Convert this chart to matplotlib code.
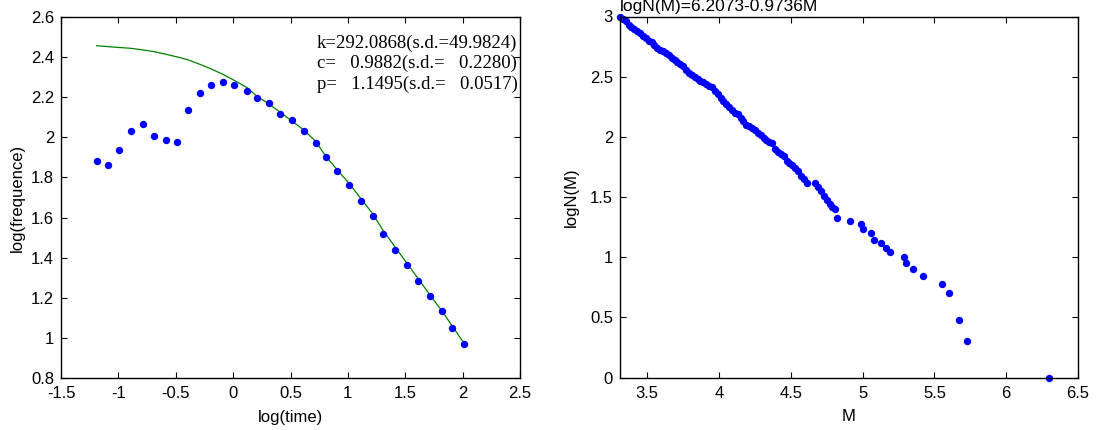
import matplotlib
matplotlib.use("Agg")
import matplotlib.pyplot as plt
from matplotlib.ticker import FuncFormatter, MultipleLocator

# ---------------- data: left panel (Omori fit) ----------------
log_time = [-1.189, -1.088, -0.992, -0.893, -0.788, -0.687, -0.585, -0.487,
            -0.391, -0.289, -0.191, -0.089, 0.010, 0.118, 0.207, 0.309,
            0.410, 0.515, 0.617, 0.719, 0.808, 0.907, 1.011, 1.113,
            1.215, 1.308, 1.409, 1.511, 1.613, 1.714, 1.819, 1.909, 2.010]
log_freq = [1.884, 1.864, 1.937, 2.033, 2.065, 2.007, 1.985, 1.975,
            2.138, 2.223, 2.259, 2.276, 2.259, 2.233, 2.196, 2.170,
            2.116, 2.085, 2.033, 1.970, 1.900, 1.832, 1.763, 1.684,
            1.610, 1.518, 1.440, 1.365, 1.285, 1.211, 1.133, 1.048, 0.968]
fit_freq = [2.457, 2.452, 2.448, 2.444, 2.436, 2.427, 2.414, 2.401,
            2.386, 2.364, 2.341, 2.314, 2.284, 2.249, 2.205, 2.168,
            2.125, 2.080, 2.036, 1.980, 1.905, 1.838, 1.770, 1.695,
            1.620, 1.535, 1.455, 1.375, 1.295, 1.215, 1.135, 1.060, 0.975]
fit_text = ["k=292.0868(s.d.=49.9824)",
            "c=   0.9882(s.d.=   0.2280)",
            "p=   1.1495(s.d.=   0.0517)"]

# ---------------- data: right panel (G-R relation) ----------------
mag = [3.31, 3.33, 3.35, 3.37, 3.39, 3.41, 3.43, 3.45, 3.47, 3.49,
       3.51, 3.53, 3.55, 3.57, 3.59, 3.61, 3.63, 3.65, 3.67, 3.69,
       3.71, 3.73, 3.75, 3.77, 3.79, 3.81, 3.83, 3.85, 3.87, 3.89,
       3.91, 3.93, 3.95, 3.97, 3.99, 4.01, 4.03, 4.05, 4.07, 4.09,
       4.11, 4.13, 4.15, 4.17, 4.19, 4.21, 4.23, 4.25, 4.27, 4.29,
       4.31, 4.33, 4.35, 4.37, 4.39, 4.41, 4.43, 4.45, 4.47, 4.49,
       4.51, 4.53, 4.55, 4.57, 4.59, 4.61,
       4.67, 4.69, 4.71, 4.73, 4.75, 4.77, 4.79, 4.81,
       4.82, 4.91, 4.99, 5.00, 5.06, 5.08, 5.13, 5.16, 5.19,
       5.29, 5.30, 5.35, 5.42, 5.55, 5.60, 5.67, 5.73, 6.30]
logN = [3.000, 2.982, 2.962, 2.930, 2.915, 2.897, 2.880, 2.862, 2.840, 2.820,
        2.800, 2.785, 2.760, 2.742, 2.725, 2.712, 2.693, 2.678, 2.655, 2.640,
        2.622, 2.605, 2.588, 2.556, 2.530, 2.516, 2.498, 2.482, 2.468, 2.455,
        2.440, 2.425, 2.410, 2.378, 2.355, 2.322, 2.295, 2.270, 2.250, 2.225,
        2.198, 2.186, 2.160, 2.128, 2.100, 2.088, 2.075, 2.054, 2.036, 2.015,
        1.990, 1.970, 1.956, 1.945, 1.900, 1.870, 1.855, 1.842, 1.800, 1.780,
        1.762, 1.740, 1.712, 1.678, 1.650, 1.620,
        1.613, 1.580, 1.550, 1.505, 1.475, 1.445, 1.415, 1.398,
        1.322, 1.301, 1.279, 1.230, 1.204, 1.146, 1.114, 1.079, 1.041,
        1.000, 0.954, 0.903, 0.845, 0.778, 0.699, 0.477, 0.301, 0.000]
gr_title = "logN(M)=6.2073-0.9736M"

# ---------------- figure ----------------
W, H = 1098, 430
fig = plt.figure(figsize=(W / 100, H / 100), dpi=100)
plt.rcParams['font.family'] = ['Liberation Sans', 'DejaVu Sans']

fmt = FuncFormatter(lambda v, p: "%g" % round(v, 6))
FS = 12


def style(ax):
    ax.tick_params(direction='in', top=True, right=True, length=4,
                   width=0.8, labelsize=FS)
    ax.tick_params(axis='x', pad=6)
    ax.tick_params(axis='y', pad=5)
    for s in ax.spines.values():
        s.set_linewidth(1.0)
    ax.xaxis.set_major_formatter(fmt)
    ax.yaxis.set_major_formatter(fmt)


# left panel
ax1 = fig.add_axes([61 / W, 52 / H, 459 / W, 361 / H])
ax1.plot(log_time, fit_freq, color=(0, 0.5, 0), lw=0.9)
ax1.plot(log_time, log_freq, 'o', color='b', ms=4.3, mec='b')
ax1.set_xlim(-1.5, 2.5)
ax1.set_ylim(0.8, 2.6)
ax1.xaxis.set_major_locator(MultipleLocator(0.5))
ax1.yaxis.set_major_locator(MultipleLocator(0.2))
style(ax1)
ax1.set_xlabel("log(time)", fontsize=FS, labelpad=6)
ax1.set_ylabel("log(frequence)", fontsize=FS, labelpad=4)
for i, (t, yy) in enumerate(zip(fit_text, [2.469, 2.369, 2.262])):
    ax1.text(0.727, yy, t, fontsize=13.5, family='Liberation Serif',
             va='center', ha='left')

# right panel
ax2 = fig.add_axes([620 / W, 52.5 / H, 458 / W, 361 / H])
ax2.plot(mag, logN, 'o', color='b', ms=4.3, mec='b', clip_on=False)
ax2.set_xlim(3.31, 6.5)
ax2.set_ylim(0, 3)
ax2.xaxis.set_major_locator(MultipleLocator(0.5))
ax2.yaxis.set_major_locator(MultipleLocator(0.5))
style(ax2)
ax2.set_xlabel("M", fontsize=FS, labelpad=6)
ax2.set_ylabel("logN(M)", fontsize=FS, labelpad=8)
fig.text(620 / W, 1 - 7 / H, gr_title, fontsize=12.5, ha='left', va='center')

fig.savefig("out.png", dpi=100)
